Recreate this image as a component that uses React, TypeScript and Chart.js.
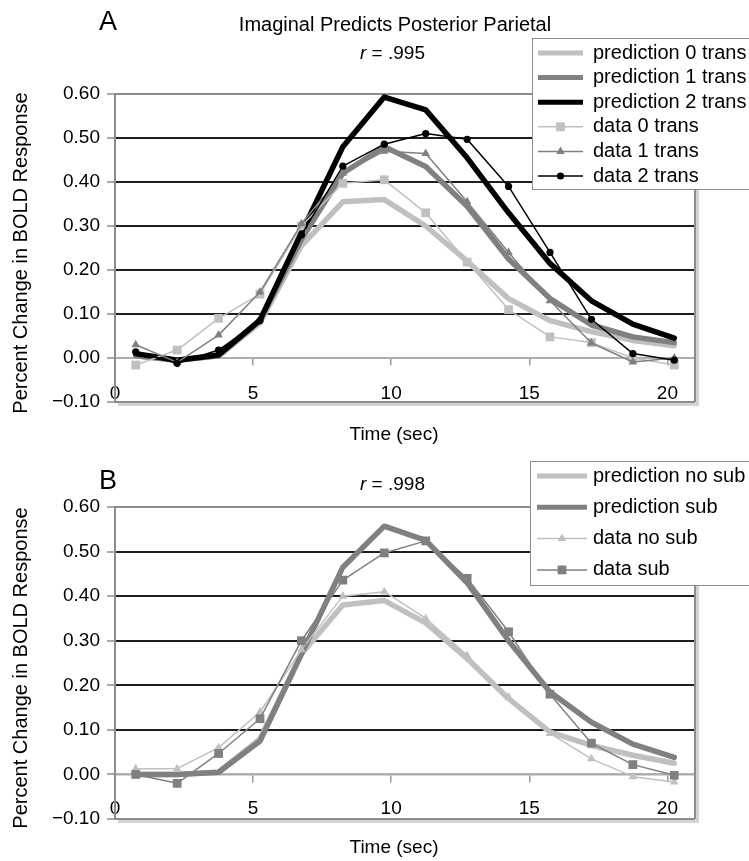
import React, { useEffect, useRef } from 'react';
import { Chart, registerables } from 'chart.js';

Chart.register(...registerables);

// ---------- data ----------
const timeSec = [0.75, 2.25, 3.75, 5.25, 6.75, 8.25, 9.75, 11.25, 12.75, 14.25, 15.75, 17.25, 18.75, 20.25];

const xTicks = [0, 5, 10, 15, 20];
const yTicks = [-0.1, 0, 0.1, 0.2, 0.3, 0.4, 0.5, 0.6];

// Panel A
const aLabels = ['prediction 0 trans', 'prediction 1 trans', 'prediction 2 trans', 'data 0 trans', 'data 1 trans', 'data 2 trans'];
const aPred0 = [0.005, -0.005, 0.005, 0.08, 0.255, 0.355, 0.36, 0.30, 0.22, 0.135, 0.085, 0.06, 0.04, 0.028];
const aPred1 = [0.005, -0.005, 0.005, 0.085, 0.27, 0.42, 0.48, 0.435, 0.345, 0.225, 0.135, 0.075, 0.048, 0.035];
const aPred2 = [0.01, -0.005, 0.007, 0.086, 0.285, 0.48, 0.593, 0.564, 0.455, 0.33, 0.215, 0.13, 0.077, 0.045];
const aData0 = [-0.016, 0.018, 0.09, 0.145, 0.30, 0.397, 0.405, 0.33, 0.218, 0.11, 0.048, 0.035, 0.0, -0.016];
const aData1 = [0.03, -0.01, 0.052, 0.15, 0.305, 0.42, 0.47, 0.465, 0.355, 0.24, 0.13, 0.034, -0.009, 0.0];
const aData2 = [0.014, -0.012, 0.018, 0.085, 0.28, 0.436, 0.486, 0.51, 0.497, 0.39, 0.24, 0.088, 0.01, -0.005];

// Panel B
const bLabels = ['prediction no sub', 'prediction sub', 'data no sub', 'data sub'];
const bPredNoSub = [0.0, 0.0, 0.005, 0.08, 0.27, 0.38, 0.39, 0.34, 0.26, 0.17, 0.095, 0.065, 0.043, 0.025];
const bPredSub = [0.0, 0.0, 0.005, 0.075, 0.27, 0.465, 0.557, 0.525, 0.43, 0.30, 0.185, 0.117, 0.068, 0.038];
const bDataNoSub = [0.013, 0.013, 0.06, 0.14, 0.28, 0.40, 0.41, 0.35, 0.267, 0.173, 0.092, 0.035, -0.005, -0.017];
const bDataSub = [0.0, -0.02, 0.047, 0.125, 0.30, 0.436, 0.497, 0.524, 0.44, 0.32, 0.18, 0.07, 0.022, -0.002];

// ---------- styles ----------
const FONT = "'Liberation Sans', Arial, Helvetica, sans-serif";
const LIGHT = '#c0c0c0';
const MID = '#808080';
const DARK = '#000000';

type Series = { label: string; values: number[]; color: string; thick: boolean; marker?: string; radius?: number };

type Panel = {
  letter: string;
  title?: string;
  rValue: string;
  height: number;
  padTop: number;
  padBottom: number;
  xTickPad: number;
  letterY: number;
  titleY: number;
  rY: number;
  xTitleY: number;
  yTitleY: number;
  legend: { x: number; y: number; w: number; h: number; row0: number; step: number; lineX0: number; lineX1: number; textX: number; font: number };
  series: Series[];
};

const panelA: Panel = {
  letter: 'A',
  title: 'Imaginal Predicts Posterior Parietal',
  rValue: ' = .995',
  height: 448,
  padTop: 94,
  padBottom: 46,
  xTickPad: 17,
  letterY: 23,
  titleY: 25,
  rY: 54,
  xTitleY: 435,
  yTitleY: 253,
  legend: { x: 532, y: 38, w: 240, h: 151, row0: 53, step: 24.6, lineX0: 538, lineX1: 583, textX: 593, font: 20 },
  series: [
    { label: aLabels[0], values: aPred0, color: LIGHT, thick: true },
    { label: aLabels[1], values: aPred1, color: MID, thick: true },
    { label: aLabels[2], values: aPred2, color: DARK, thick: true },
    { label: aLabels[3], values: aData0, color: LIGHT, thick: false, marker: 'rect', radius: 6.2 },
    { label: aLabels[4], values: aData1, color: MID, thick: false, marker: 'triangle', radius: 5 },
    { label: aLabels[5], values: aData2, color: DARK, thick: false, marker: 'circle', radius: 3.6 },
  ],
};

const panelB: Panel = {
  letter: 'B',
  rValue: ' = .998',
  height: 413,
  padTop: 59,
  padBottom: 42,
  xTickPad: 16,
  letterY: 34,
  titleY: 0,
  rY: 37,
  xTitleY: 400,
  yTitleY: 220,
  legend: { x: 530, y: 13, w: 240, h: 124, row0: 28, step: 31.3, lineX0: 537, lineX1: 587, textX: 593, font: 20 },
  series: [
    { label: bLabels[0], values: bPredNoSub, color: LIGHT, thick: true },
    { label: bLabels[1], values: bPredSub, color: MID, thick: true },
    { label: bLabels[2], values: bDataNoSub, color: LIGHT, thick: false, marker: 'triangle', radius: 5 },
    { label: bLabels[3], values: bDataSub, color: MID, thick: false, marker: 'rect', radius: 6.2 },
  ],
};

// ---------- helpers ----------
function drawMarker(ctx: CanvasRenderingContext2D, style: string, x: number, y: number, r: number, color: string) {
  ctx.save();
  ctx.fillStyle = color;
  ctx.beginPath();
  if (style === 'rect') {
    const s = Math.SQRT1_2 * r;
    ctx.rect(x - s, y - s, 2 * s, 2 * s);
  } else if (style === 'triangle') {
    ctx.moveTo(x, y - r);
    ctx.lineTo(x + r * 0.866, y + r * 0.5);
    ctx.lineTo(x - r * 0.866, y + r * 0.5);
    ctx.closePath();
  } else {
    ctx.arc(x, y, r, 0, Math.PI * 2);
  }
  ctx.fill();
  ctx.restore();
}

function framePlugin() {
  return {
    id: 'frame',
    beforeDatasetsDraw(chart: any) {
      const { ctx, chartArea } = chart;
      const { left, right, top, bottom } = chartArea;
      ctx.save();
      ctx.strokeStyle = '#d4d4d4';
      ctx.lineWidth = 3;
      ctx.beginPath();
      ctx.moveTo(right + 2.5, top + 3);
      ctx.lineTo(right + 2.5, bottom + 2.5);
      ctx.lineTo(left + 3, bottom + 2.5);
      ctx.stroke();
      ctx.strokeStyle = '#8c8c8c';
      ctx.lineWidth = 2;
      ctx.beginPath();
      ctx.moveTo(right, top);
      ctx.lineTo(right, bottom);
      ctx.stroke();
      ctx.restore();
    },
  };
}

function legendPlugin(p: Panel) {
  return {
    id: 'customLegend',
    afterDatasetsDraw(chart: any) {
      const ctx: CanvasRenderingContext2D = chart.ctx;
      const L = p.legend;
      ctx.save();
      ctx.fillStyle = '#ffffff';
      ctx.fillRect(L.x, L.y, L.w, L.h);
      ctx.strokeStyle = '#8c8c8c';
      ctx.lineWidth = 1;
      ctx.strokeRect(L.x + 0.5, L.y + 0.5, L.w, L.h);
      p.series.forEach((s, i) => {
        const y = L.row0 + i * L.step;
        ctx.strokeStyle = s.color;
        ctx.lineWidth = s.thick ? 5 : 1.5;
        ctx.lineCap = 'butt';
        ctx.beginPath();
        ctx.moveTo(L.lineX0, y);
        ctx.lineTo(L.lineX1, y);
        ctx.stroke();
        if (s.marker) drawMarker(ctx, s.marker, (L.lineX0 + L.lineX1) / 2, y, s.radius || 4, s.color);
        ctx.fillStyle = '#000';
        ctx.font = `${L.font}px ${FONT}`;
        ctx.textAlign = 'left';
        ctx.textBaseline = 'middle';
        ctx.fillText(s.label, L.textX, y);
      });
      ctx.restore();
    },
  };
}

function annotationPlugin(p: Panel) {
  return {
    id: 'annotations',
    afterDraw(chart: any) {
      const ctx: CanvasRenderingContext2D = chart.ctx;
      ctx.save();
      ctx.fillStyle = '#000';
      ctx.textBaseline = 'middle';
      ctx.font = `27px ${FONT}`;
      ctx.textAlign = 'center';
      ctx.fillText(p.letter, 108, p.letterY);
      if (p.title) {
        ctx.font = `20px ${FONT}`;
        ctx.fillText(p.title, 395, p.titleY);
      }
      ctx.textAlign = 'left';
      ctx.font = `italic 19px ${FONT}`;
      ctx.fillText('r', 360, p.rY);
      const rw = ctx.measureText('r').width;
      ctx.font = `19px ${FONT}`;
      ctx.fillText(p.rValue, 360 + rw, p.rY);
      ctx.textAlign = 'center';
      ctx.font = `19px ${FONT}`;
      ctx.fillText('Time (sec)', 394, p.xTitleY);
      ctx.translate(21, p.yTitleY);
      ctx.rotate(-Math.PI / 2);
      ctx.font = `20px ${FONT}`;
      ctx.fillText('Percent Change in BOLD Response', 0, 0);
      ctx.restore();
    },
  };
}

function buildConfig(p: Panel): any {
  const n = p.series.length;
  return {
    type: 'line',
    data: {
      datasets: p.series.map((s, i) => ({
        label: s.label,
        data: timeSec.map((t, j) => ({ x: t, y: s.values[j] })),
        borderColor: s.color,
        backgroundColor: s.color,
        pointBackgroundColor: s.color,
        pointBorderColor: s.color,
        pointBorderWidth: 0,
        borderWidth: s.thick ? 5.5 : 1.5,
        pointRadius: s.marker ? s.radius : 0,
        pointStyle: s.marker || 'circle',
        borderJoinStyle: 'round',
        borderCapStyle: 'round',
        tension: 0,
        fill: false,
        order: n - i,
      })),
    },
    options: {
      animation: false,
      responsive: false,
      devicePixelRatio: 1,
      layout: { padding: { left: 0, right: 54, top: p.padTop, bottom: p.padBottom } },
      plugins: {
        legend: { display: false },
        tooltip: { enabled: false },
        title: { display: false },
      },
      scales: {
        x: {
          type: 'linear',
          position: { y: 0 },
          min: 0,
          max: 21,
          afterBuildTicks: (scale: any) => {
            scale.ticks = xTicks.map((v) => ({ value: v }));
          },
          ticks: {
            autoSkip: false,
            maxRotation: 0,
            padding: p.xTickPad,
            color: '#000',
            font: { family: FONT, size: 19 },
            callback: (v: any) => String(v),
          },
          grid: { drawOnChartArea: false, drawTicks: true, tickLength: 7, color: '#9a9a9a', lineWidth: 1.5 },
          border: { display: true, color: '#ababab', width: 1.5 },
          afterFit: (scale: any) => {
            scale.height = 0;
          },
        },
        y: {
          type: 'linear',
          position: 'left',
          min: -0.1,
          max: 0.6,
          afterBuildTicks: (scale: any) => {
            scale.ticks = yTicks.map((v) => ({ value: v }));
          },
          ticks: {
            padding: 7,
            color: '#000',
            font: { family: FONT, size: 19 },
            callback: (v: any) => {
              const num = Number(v);
              const s = Math.abs(num).toFixed(2);
              return num < -1e-9 ? '\u2212' + s : s;
            },
          },
          grid: {
            color: (c: any) => {
              const v = c.tick ? c.tick.value : 0;
              if (Math.abs(v) < 1e-6) return '#b4b4b4';
              if (v > 0.55 || v < -0.05) return '#8c8c8c';
              return '#1e1e1e';
            },
            lineWidth: 2,
            tickLength: 8,
            tickColor: '#8c8c8c',
            tickWidth: 1.5,
          },
          border: { display: true, color: '#8c8c8c', width: 2 },
          afterFit: (scale: any) => {
            scale.width = 115;
          },
        },
      },
    },
    plugins: [framePlugin(), legendPlugin(p), annotationPlugin(p)],
  };
}

export default function App() {
  const topRef = useRef<HTMLCanvasElement>(null);
  const botRef = useRef<HTMLCanvasElement>(null);

  useEffect(() => {
    document.body.style.margin = '0';
    const c1 = new Chart(topRef.current as HTMLCanvasElement, buildConfig(panelA));
    const c2 = new Chart(botRef.current as HTMLCanvasElement, buildConfig(panelB));
    return () => {
      c1.destroy();
      c2.destroy();
    };
  }, []);

  return (
    <div style={{ position: 'relative', width: 749, height: 861, background: '#fff', overflow: 'hidden' }}>
      <canvas
        ref={topRef}
        width={749}
        height={panelA.height}
        style={{ position: 'absolute', left: 0, top: 0, width: 749, height: panelA.height }}
      />
      <canvas
        ref={botRef}
        width={749}
        height={panelB.height}
        style={{ position: 'absolute', left: 0, top: 448, width: 749, height: panelB.height }}
      />
    </div>
  );
}
